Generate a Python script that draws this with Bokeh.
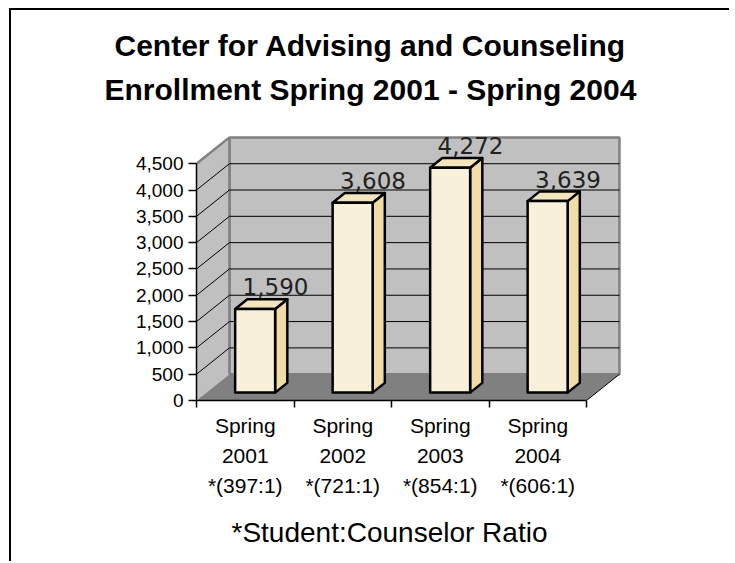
from bokeh.plotting import figure
from bokeh.models import (Range1d, FixedTicker, NumeralTickFormatter, Title, LinearAxis,
                          InlineStyleSheet)
from bokeh.core.properties import value
from bokeh.embed import file_html
from bokeh.resources import INLINE

# ---------------- data ----------------
TITLE_LINE1 = "Center for Advising and Counseling"
TITLE_LINE2 = "Enrollment Spring 2001 - Spring 2004"
TERMS = ["Spring", "Spring", "Spring", "Spring"]
YEARS = ["2001", "2002", "2003", "2004"]
RATIOS = ["*(397:1)", "*(721:1)", "*(854:1)", "*(606:1)"]
ENROLLMENT = [1590, 3608, 4272, 3639]
Y_TICKS = [0, 500, 1000, 1500, 2000, 2500, 3000, 3500, 4000, 4500]
FOOTNOTE = "*Student:Counselor Ratio"

# ---------------- 3D geometry (style) ----------------
N = len(ENROLLMENT)
YMAX = Y_TICKS[-1]
DX = 0.338      # depth offset in category units
DY = 500        # depth offset in value units
D0, D1 = 0.30, 0.67   # bar front / back depth fraction
HW = 0.205      # bar half width
LABEL_DX = 0.31
LABEL_DY = 570

WALL = "#C0C0C0"
FLOOR = "#808080"
EDGE = "#808080"
FRONT = "#F8F0D8"
TOP = "#F3E5BE"
SIDE = "#EFDCA6"

p = figure(width=720, height=553, output_backend="svg", toolbar_location=None,
           x_range=Range1d(0, 4.4), y_range=Range1d(0, 5036),
           min_border_left=185, min_border_right=106,
           min_border_top=125, min_border_bottom=162,
           x_axis_location=None, y_axis_location=None)
p.grid.visible = False
p.outline_line_color = None
p.background_fill_color = "white"
p.border_fill_color = "white"
# slide frame: left and top rules on the plot's own host element
p.margin = (8, 0, 0, 9)
p.stylesheets = [InlineStyleSheet(css=":host { border-left: 2px solid black; border-top: 2px solid black; }")]

# back wall
p.patch([DX, N + DX, N + DX, DX], [DY, DY, YMAX + DY, YMAX + DY],
        fill_color=WALL, line_color=EDGE, line_width=2.5)
# side wall
p.patch([0, DX, DX, 0], [0, DY, YMAX + DY, YMAX],
        fill_color=WALL, line_color=None)
p.line([0, DX], [YMAX, YMAX + DY], line_color=EDGE, line_width=2.5)
# floor
p.patch([0, N, N + DX, DX], [0, 0, DY, DY], fill_color=FLOOR, line_color=None)
p.line([N, N + DX], [0, DY], line_color="black", line_width=1)
p.line([DX, DX], [DY, YMAX + DY], line_color=EDGE, line_width=2.5)

# gridlines on back wall and diagonals on side wall
inner = [t for t in Y_TICKS if 0 < t < YMAX]
p.multi_line([[DX, N + DX] for t in inner], [[t + DY, t + DY] for t in inner],
             line_color="black", line_width=1)
p.multi_line([[0, DX] for t in inner], [[t, t + DY] for t in inner],
             line_color="black", line_width=1)

# bars
fx, fy, sx, sy, tx, ty = [], [], [], [], [], []
for i, v in enumerate(ENROLLMENT):
    c = i + 0.5
    l0, r0 = c - HW + D0 * DX, c + HW + D0 * DX
    l1, r1 = c - HW + D1 * DX, c + HW + D1 * DX
    b0, b1 = D0 * DY, D1 * DY
    fx.append([l0, r0, r0, l0]); fy.append([b0, b0, v + b0, v + b0])
    sx.append([r0, r1, r1, r0]); sy.append([b0, b1, v + b1, v + b0])
    tx.append([l0, r0, r1, l1]); ty.append([v + b0, v + b0, v + b1, v + b1])
p.patches(sx, sy, fill_color=SIDE, line_color="black", line_width=2.5, line_join="round")
p.patches(tx, ty, fill_color=TOP, line_color="black", line_width=2.5, line_join="round")
p.patches(fx, fy, fill_color=FRONT, line_color="black", line_width=2.5, line_join="round")

# data labels
p.text(x=[i + 0.5 + LABEL_DX for i in range(N)],
       y=[v + LABEL_DY for v in ENROLLMENT],
       text=[f"{v:,}" for v in ENROLLMENT],
       text_font=value("DejaVu Sans"), text_font_size="23px",
       text_color="#222222", text_align="center", text_baseline="alphabetic")

# y axis
yaxis = LinearAxis(ticker=FixedTicker(ticks=Y_TICKS, minor_ticks=[]),
                   formatter=NumeralTickFormatter(format="0,0"),
                   bounds=(0, YMAX), major_tick_in=0, major_tick_out=8,
                   axis_line_color="black", axis_line_width=1.5,
                   major_tick_line_width=1.5,
                   major_label_text_font="Liberation Sans",
                   major_label_text_font_size="19px",
                   major_label_text_color="black",
                   major_label_standoff=5)
p.add_layout(yaxis, "left")

# x axis
centers = [i + 0.5 for i in range(N)]
xaxis = LinearAxis(ticker=FixedTicker(ticks=centers, minor_ticks=list(range(N + 1))),
                   bounds=(0, N),
                   major_label_overrides={c: f"{t}\n{y}\n{r}" for c, t, y, r in zip(centers, TERMS, YEARS, RATIOS)},
                   major_tick_line_color=None, major_tick_in=0, major_tick_out=0,
                   minor_tick_in=0, minor_tick_out=7, minor_tick_line_color="black",
                   minor_tick_line_width=1.5,
                   axis_line_color="black", axis_line_width=1.5,
                   major_label_text_font="Liberation Sans",
                   major_label_text_font_size="21px",
                   major_label_text_color="black",
                   major_label_text_line_height=1.31,
                   major_label_standoff=6)
p.add_layout(xaxis, "below")

# footnote under the axis
p.add_layout(Title(text=FOOTNOTE, align="left", offset=35, standoff=31,
                   text_font="Liberation Sans", text_font_size="28px",
                   text_font_style="normal", text_color="black"), "below")

# title (two centred lines)
p.add_layout(Title(text=TITLE_LINE2, align="left", offset=-92, standoff=59,
                   text_font="Liberation Sans", text_font_size="30px",
                   text_font_style="bold", text_color="black"), "above")
p.add_layout(Title(text=TITLE_LINE1, align="left", offset=-82, standoff=-41,
                   text_font="Liberation Sans", text_font_size="30px",
                   text_font_style="bold", text_color="black"), "above")

open("out.html", "w").write(file_html(p, INLINE))
